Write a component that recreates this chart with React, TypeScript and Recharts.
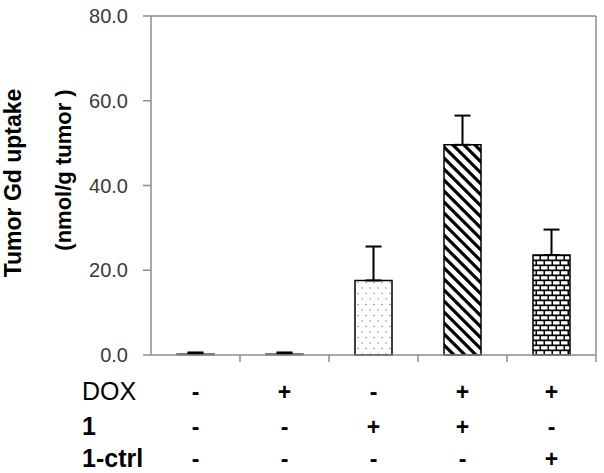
import { BarChart, Bar, XAxis, YAxis, ErrorBar, Cell, ReferenceLine } from 'recharts';

const GROUPS = ['g1', 'g2', 'g3', 'g4', 'g5'];
const UPTAKE = [0.3, 0.3, 17.6, 49.6, 23.6];
const SD = [0.3, 0.3, 8.0, 6.9, 6.0];
const DOX = ['-', '+', '-', '+', '+'];
const CMPD1 = ['-', '-', '+', '+', '-'];
const CTRL = ['-', '-', '-', '-', '+'];
const Y_TICKS = [0, 20, 40, 60, 80];

const FILLS = ['#8a8a8a', '#8a8a8a', 'url(#dots)', 'url(#diag)', 'url(#brick)'];
const STROKES = ['#777', '#777', '#000', '#000', '#000'];

const data = GROUPS.map((g, i) => ({ name: g, v: UPTAKE[i], err: [0, SD[i]] }));

const FONT = '"Liberation Sans", Arial, sans-serif';
const GRID = '#8c8c8c';

function TableTick(props: any) {
  const { x, payload, index } = props;
  const i = payload.index ?? index;
  const half = 44.5;
  const axisY = 355;
  const rows = [
    { label: 'DOX', vals: DOX, y: axisY + 45, bold: false },
    { label: '1', vals: CMPD1, y: axisY + 80, bold: true },
    { label: '1-ctrl', vals: CTRL, y: axisY + 112, bold: true },
  ];
  return (
    <g>
      <line x1={x + half} x2={x + half} y1={axisY} y2={axisY + 7} stroke={GRID} strokeWidth={1.5} />
      {rows.map((r) => (
        <text key={r.label} x={x} y={r.y} textAnchor="middle" fontFamily={FONT} fontWeight="bold" fontSize={23} fill="#000">
          {r.vals[i]}
        </text>
      ))}
      {i === 0 &&
        rows.map((r) => (
          <text key={'l' + r.label} x={82} y={r.y} fontFamily={FONT} fontWeight={r.bold ? 'bold' : 'normal'} fontSize={25} fill="#000">
            {r.label}
          </text>
        ))}
    </g>
  );
}

export default function App() {
  return (
    <div style={{ position: 'absolute', left: 0, top: 0, width: 604, height: 473, background: '#fff' }}>
      <svg width={0} height={0} style={{ position: 'absolute' }}>
        <defs>
          <pattern id="dots" width={8} height={11} patternUnits="userSpaceOnUse">
            <rect width={8} height={11} fill="#fff" />
            <circle cx={2} cy={2} r={0.7} fill="#777" />
            <circle cx={6} cy={7.5} r={0.7} fill="#777" />
          </pattern>
          <pattern id="diag" width={11} height={11} patternUnits="userSpaceOnUse">
            <rect width={11} height={11} fill="#fff" />
            <path d="M-3,8 L3,14 M0,0 L11,11 M8,-3 L14,3" stroke="#000" strokeWidth={3.2} />
          </pattern>
          <pattern id="brick" width={16} height={10} patternUnits="userSpaceOnUse">
            <rect width={16} height={10} fill="#000" />
            <rect x={1} y={1.2} width={6.5} height={3.3} fill="#fff" />
            <rect x={9} y={1.2} width={6.5} height={3.3} fill="#fff" />
            <rect x={-3} y={6.2} width={6.5} height={3.3} fill="#fff" />
            <rect x={5} y={6.2} width={6.5} height={3.3} fill="#fff" />
            <rect x={13} y={6.2} width={6.5} height={3.3} fill="#fff" />
          </pattern>
        </defs>
      </svg>
      <svg width={604} height={473} style={{ position: 'absolute', left: 0, top: 0, pointerEvents: 'none' }}>
        <text transform="translate(21,183) rotate(-90)" textAnchor="middle" fontFamily={FONT} fontWeight="bold" fontSize={23} fill="#000">
          Tumor Gd uptake
        </text>
        <text transform="translate(71,170) rotate(-90)" textAnchor="middle" fontFamily={FONT} fontWeight="bold" fontSize={22} fill="#000">
          (nmol/g tumor )
        </text>
      </svg>
      <BarChart width={604} height={473} data={data} margin={{ top: 16, right: 0, bottom: 8, left: 0 }} barSize={37}>
        <XAxis
          dataKey="name"
          height={110}
          axisLine={{ stroke: GRID, strokeWidth: 1.5 }}
          tickLine={false}
          interval={0}
          tick={<TableTick />}
        />
        <YAxis
          yAxisId="l"
          width={151}
          domain={[0, 80]}
          ticks={Y_TICKS}
          tickFormatter={(v: number) => v.toFixed(1)}
          axisLine={{ stroke: GRID, strokeWidth: 1.5 }}
          tickLine={{ stroke: GRID, strokeWidth: 1.5 }}
          tickSize={8}
          tickMargin={15}
          tick={{ fontFamily: FONT, fontSize: 20, fill: '#3a3a3a' }}
        />
        <YAxis
          yAxisId="r"
          orientation="right"
          width={8}
          domain={[0, 80]}
          tick={false}
          tickLine={false}
          axisLine={{ stroke: GRID, strokeWidth: 1.5 }}
        />
        <ReferenceLine yAxisId="l" y={80} stroke={GRID} strokeWidth={1.5} />
        <Bar yAxisId="l" dataKey="v" isAnimationActive={false} strokeWidth={1.5}>
          {data.map((d, i) => (
            <Cell key={d.name} fill={FILLS[i]} stroke={STROKES[i]} />
          ))}
          <ErrorBar dataKey="err" direction="y" width={8} stroke="#000" strokeWidth={2} />
        </Bar>
      </BarChart>
    </div>
  );
}
